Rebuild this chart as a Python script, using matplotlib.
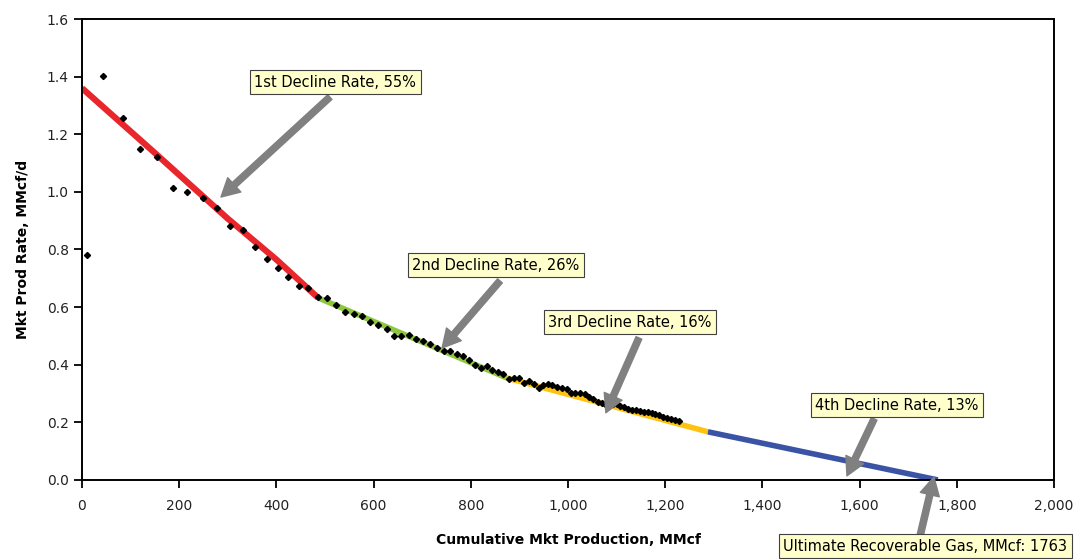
import matplotlib
matplotlib.use("Agg")
import matplotlib.pyplot as plt
from matplotlib.ticker import FuncFormatter, MultipleLocator

# measured points: cumulative production (MMcf) vs rate (MMcf/d)
cum_prod = [11, 43, 84, 120, 155, 187, 217, 248, 277, 304, 331, 357, 380, 403, 424, 446,
            466, 485, 504, 523, 542, 559, 577, 593, 610, 627, 642, 656, 672, 687, 702, 716,
            730, 744, 758, 771, 785, 797, 809, 821, 833, 844, 855, 867, 879, 888, 899, 910,
            920, 930, 940, 949, 959, 968, 978, 988, 997, 1006, 1015, 1025, 1034, 1043, 1052,
            1061, 1069, 1077, 1085, 1093, 1100, 1108, 1116, 1124, 1132, 1140, 1148, 1156,
            1164, 1172, 1180, 1188, 1196, 1204, 1212, 1220, 1228]
prod_rate = [0.781, 1.403, 1.255, 1.150, 1.122, 1.012, 1.000, 0.977, 0.943, 0.882, 0.868,
             0.808, 0.768, 0.736, 0.706, 0.673, 0.668, 0.635, 0.630, 0.608, 0.583, 0.575,
             0.570, 0.547, 0.538, 0.524, 0.501, 0.499, 0.503, 0.489, 0.484, 0.473, 0.459,
             0.449, 0.447, 0.437, 0.429, 0.417, 0.400, 0.390, 0.395, 0.383, 0.374, 0.366,
             0.351, 0.355, 0.353, 0.337, 0.343, 0.332, 0.318, 0.329, 0.332, 0.329, 0.323,
             0.319, 0.315, 0.302, 0.303, 0.301, 0.297, 0.287, 0.280, 0.272, 0.268, 0.264,
             0.258, 0.262, 0.264, 0.256, 0.252, 0.247, 0.244, 0.241, 0.240, 0.237, 0.235,
             0.231, 0.228, 0.224, 0.219, 0.214, 0.211, 0.207, 0.203]

# decline segments
decl1_x = [0, 150, 300, 400, 486]
decl1_y = [1.360, 1.135, 0.907, 0.765, 0.632]
decl2_x = [486, 874]
decl2_y = [0.632, 0.354]
decl3_x = [874, 1288]
decl3_y = [0.354, 0.167]
decl4_x = [1288, 1761]
decl4_y = [0.167, 0.0]

# annotations: text, text position, arrow tail, arrow tip
notes = ["1st Decline Rate, 55%", "2nd Decline Rate, 26%", "3rd Decline Rate, 16%",
         "4th Decline Rate, 13%", "Ultimate Recoverable Gas, MMcf: 1763"]
note_pos = [(521, 1.381), (852, 0.746), (1128, 0.548), (1677, 0.260), (1735, -0.230)]
arrow_tail = [(510, 1.329), (860, 0.691), (1146, 0.493), (1630, 0.212), (1724, -0.198)]
arrow_tip = [(286, 0.982), (741, 0.458), (1078, 0.233), (1574, 0.014), (1753, 0.010)]

fig = plt.figure(figsize=(10.86, 5.6), dpi=100)
ax = fig.add_axes([0.0755, 0.143, 0.895, 0.823])

ax.plot(decl1_x, decl1_y, color="#E8262B", linewidth=4.5, solid_capstyle="butt", zorder=2)
ax.plot(decl2_x, decl2_y, color="#8DC63F", linewidth=4, solid_capstyle="butt", zorder=2)
ax.plot(decl3_x, decl3_y, color="#FFC20E", linewidth=4, solid_capstyle="butt", zorder=2)
ax.plot(decl4_x, decl4_y, color="#3A53A4", linewidth=4, solid_capstyle="butt", zorder=2)
ax.plot(cum_prod, prod_rate, linestyle="none", marker="D", markersize=3.1,
        color="black", zorder=3)

ax.set_xlim(0, 2000)
ax.set_ylim(0, 1.6)
ax.xaxis.set_major_locator(MultipleLocator(200))
ax.yaxis.set_major_locator(MultipleLocator(0.2))
ax.xaxis.set_major_formatter(FuncFormatter(lambda v, p: f"{v:,.0f}"))
ax.yaxis.set_major_formatter(FuncFormatter(lambda v, p: f"{v:.1f}"))
ax.tick_params(direction="out", length=6, width=1.3, labelsize=10, colors="black",
               labelcolor="#222222")
ax.tick_params(axis="x", pad=8)
for s in ax.spines.values():
    s.set_linewidth(1.4)

ax.set_xlabel("Cumulative Mkt Production, MMcf", fontsize=10, fontweight="bold", labelpad=14)
ax.set_ylabel("Mkt Prod Rate, MMcf/d", fontsize=10, fontweight="bold", labelpad=12)

for i in range(len(notes)):
    ax.annotate("", xy=arrow_tip[i], xytext=arrow_tail[i], annotation_clip=False,
                arrowprops=dict(facecolor="#808080", edgecolor="#808080", width=4.5,
                                headwidth=14, headlength=13, shrink=0), zorder=4)
    ax.text(note_pos[i][0], note_pos[i][1], notes[i], fontsize=10.5, ha="center", va="center",
            clip_on=False, zorder=5,
            bbox=dict(boxstyle="square,pad=0.3", facecolor="#FFFFCC", edgecolor="#404040",
                      linewidth=0.8))

fig.savefig("out.png", dpi=100)
